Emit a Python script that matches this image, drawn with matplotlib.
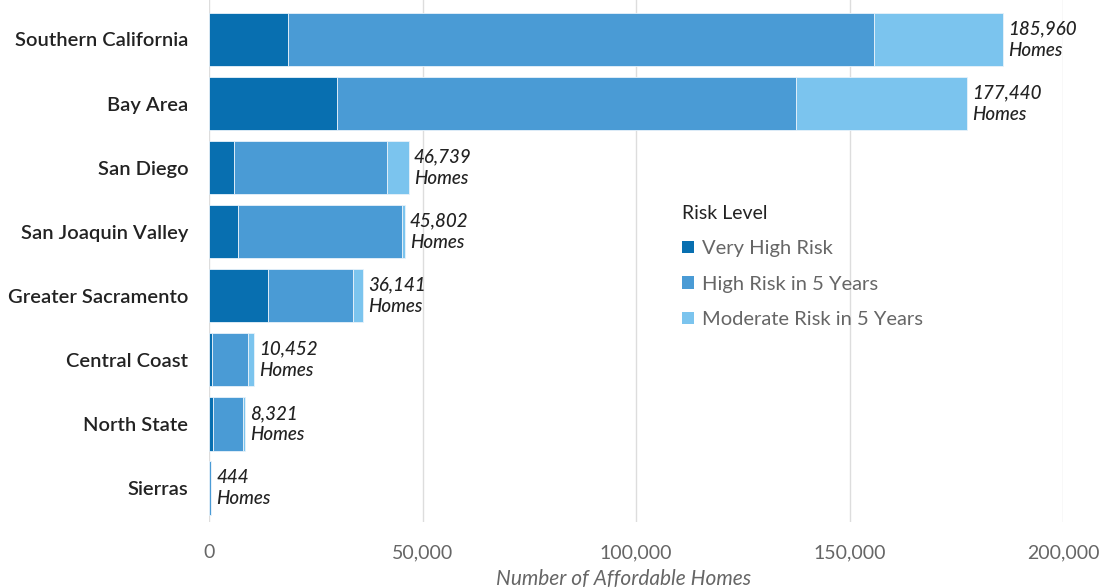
import numpy as np
import matplotlib.pyplot as plt

plt.rcParams['font.family'] = ['Lato', 'DejaVu Sans']

# regions, top to bottom
regions = ['Southern California', 'Bay Area', 'San Diego', 'San Joaquin Valley',
           'Greater Sacramento', 'Central Coast', 'North State', 'Sierras']
totals = [185960, 177440, 46739, 45802, 36141, 10452, 8321, 444]

# estimated split by risk level
very_high = [18500, 30000, 5900, 6800, 13800, 600, 1000, 20]
high_5yr = [137200, 107500, 35800, 38400, 19900, 8600, 7000, 400]
moderate_5yr = [t - a - b for t, a, b in zip(totals, very_high, high_5yr)]

series_names = ['Very High Risk', 'High Risk in 5 Years', 'Moderate Risk in 5 Years']
colors = ['#086fb0', '#4a9bd5', '#7bc4ee']
x_ticks = [0, 50000, 100000, 150000, 200000]

fig = plt.figure(figsize=(11.01, 5.88), dpi=100)
ax = fig.add_axes([209/1101, 1 - 522/588, (1063 - 209)/1101, 522/588])

y = np.arange(len(regions))
left = np.zeros(len(regions))
for vals, name, c in zip([very_high, high_5yr, moderate_5yr], series_names, colors):
    ax.barh(y, vals, left=left, height=0.83, color=c, label=name,
            edgecolor='#e8f2fa', linewidth=0.6, zorder=3)
    left = left + np.array(vals)

for i, t in enumerate(totals):
    ax.text(t + 1200, i, f"{t:,}\nHomes", va='center', ha='left', style='italic',
            fontsize=13.5, fontweight='medium', color='#222222', linespacing=1.3, zorder=4)

ax.set_ylim(7.53, -0.616)
ax.set_xlim(0, 200000)
ax.set_yticks(y)
ax.set_yticklabels(regions, fontsize=14.5, fontweight='semibold', color='#222222')
ax.set_xticks(x_ticks)
ax.set_xticklabels([f"{v:,}" for v in x_ticks], fontsize=14, color='#666666')
ax.tick_params(axis='both', length=0)
ax.tick_params(axis='y', pad=15)
ax.tick_params(axis='x', pad=16)
ax.xaxis.grid(True, color='#dddddd', linewidth=1, zorder=0)
for s in ax.spines.values():
    s.set_visible(False)

ax.set_xlabel('Number of Affordable Homes', fontsize=15, style='italic',
              color='#666666')
ax.xaxis.set_label_coords(0.486, -0.09)

leg = ax.legend(loc='upper left', bbox_to_anchor=(0.545, 0.622), frameon=False,
                title='Risk Level', fontsize=14.5, title_fontsize=14,
                handlelength=0.55, handleheight=0.55, handletextpad=0.4,
                labelspacing=0.9, alignment='left', borderaxespad=0)
for txt in leg.get_texts():
    txt.set_color('#666666')
leg.get_title().set_color('#222222')
for h in leg.legend_handles:
    h.set_edgecolor('none')

fig.savefig('out.png', dpi=100)
